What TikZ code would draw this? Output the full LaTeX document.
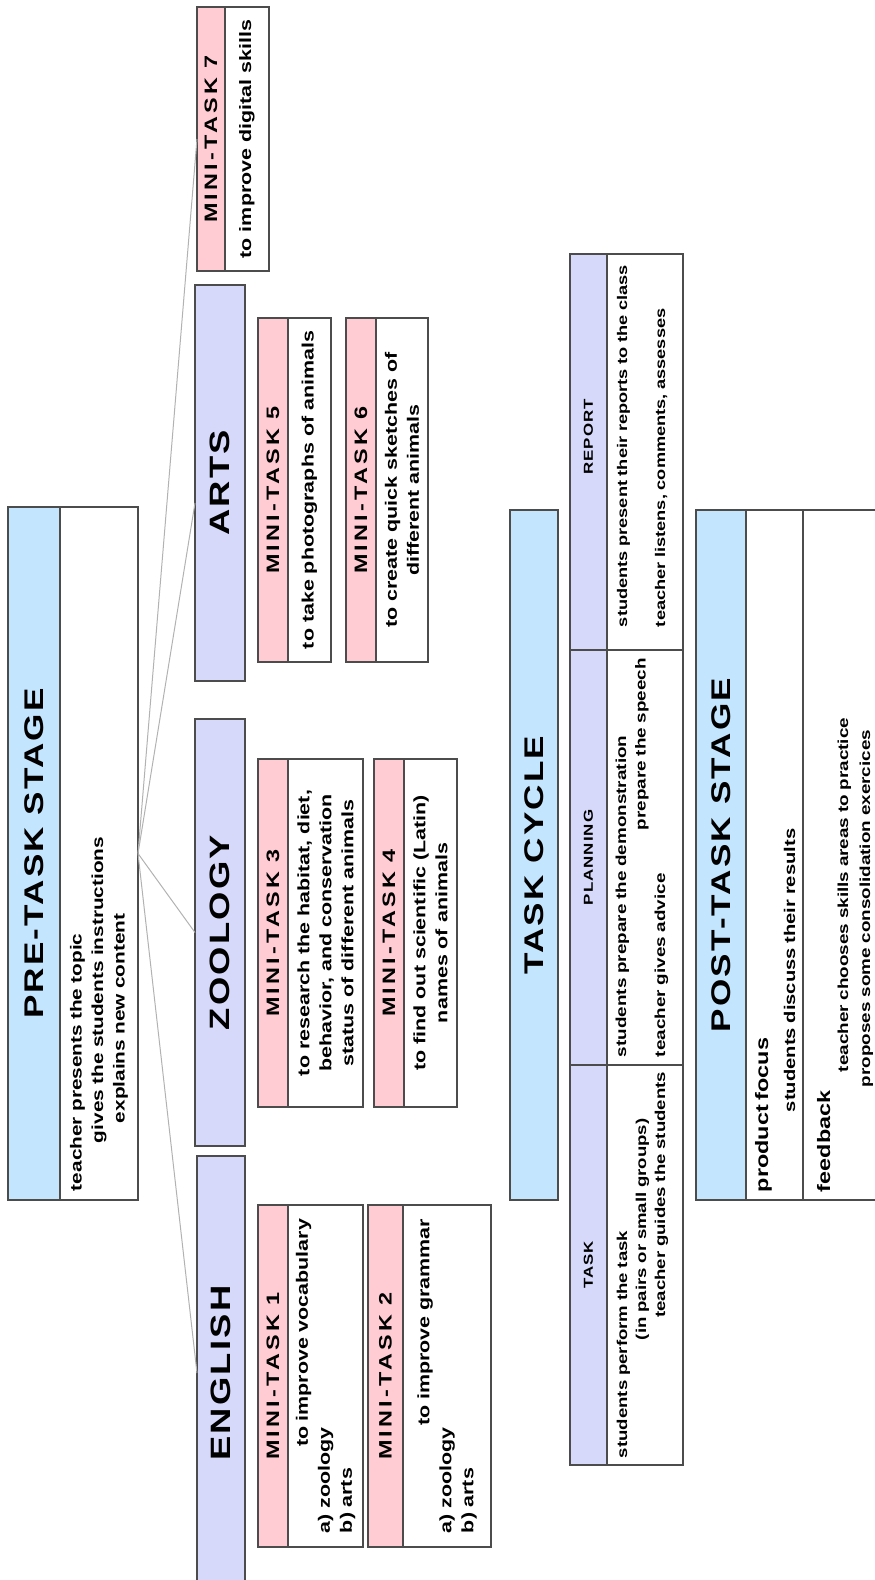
\documentclass[tikz,border=0pt]{standalone}
\usepackage{fontspec}
\setmainfont{Liberation Sans}[FakeStretch=1.3]
\newfontfamily\spacedfont{Liberation Sans}[FakeStretch=1.3,LetterSpace=8]
\newfontfamily\titlefont{Liberation Sans}[FakeStretch=1.3,LetterSpace=18]
\definecolor{stageblue}{HTML}{C4E5FE}
\definecolor{subjectblue}{HTML}{D7D9FB}
\definecolor{taskpink}{HTML}{FFCCD3}

\tikzset{
  panel/.style={draw=black!70, line width=1.2pt, rotate=90, inner sep=0pt, outer sep=0pt},
  dims/.style 2 args={minimum width=#1, minimum height=#2},
  stagetitle/.style={panel, fill=stageblue, font=\spacedfont\bfseries\fontsize{27}{30}\selectfont},
  stagetext/.style={panel, fill=white, align=left, font=\bfseries\fontsize{16}{21.5}\selectfont},
  subject/.style={panel, fill=subjectblue, font=\spacedfont\bfseries\fontsize{28}{30}\selectfont},
  minititle/.style={panel, fill=taskpink, font=\titlefont\bfseries\fontsize{18}{20}\selectfont},
  minitext/.style={panel, fill=white, align=center, font=\bfseries\fontsize{16.5}{22}\selectfont},
  phasetitle/.style={panel, fill=subjectblue, font=\spacedfont\bfseries\fontsize{13}{16}\selectfont},
  phasetext/.style={panel, fill=white, align=left},
  posttext/.style={panel, fill=white, align=left, font=\bfseries\fontsize{14.5}{17}\selectfont},
  link/.style={draw=black!30, line width=1pt},
}

\begin{document}
\begin{tikzpicture}[x=1pt, y=-1pt]
\useasboundingbox (0,0) rectangle (875,1580);

% pre-task stage
\node[stagetitle, dims={693pt}{52pt}] (pretitle) at (34,853.5) {PRE-TASK STAGE};
\node[stagetext, dims={693pt}{78pt}, text width=675pt] (pretext) at (99,853.5)
  {teacher presents the topic\\
   \hspace*{48pt}gives the students instructions\\
   \hspace*{68pt}explains new content};

% subjects
\node[subject, dims={434pt}{48pt}] (english) at (221,1373) {ENGLISH};
\node[subject, dims={427pt}{50pt}] (zoology) at (220,932.5) {ZOOLOGY};
\node[subject, dims={396pt}{50pt}] (arts) at (220,483) {ARTS};
\node[minititle, dims={264pt}{28pt}] (mt7) at (211,139) {MINI-TASK 7};
\node[minitext, dims={264pt}{44pt}] (mt7text) at (247,139) {to improve digital skills};

\draw[link] (pretext.south) -- (english.north);
\draw[link] (pretext.south) -- (zoology.north);
\draw[link] (pretext.south) -- ([yshift=-20pt]arts.north);
\draw[link] (pretext.south) -- (mt7.north);

% english
\node[minititle, dims={342pt}{30pt}] (mt1) at (273,1376) {MINI-TASK 1};
\node[minitext, dims={342pt}{75pt}, text width=314pt, align=left] (mt1text) at (325.5,1376)
  {\hspace*{\fill}to improve vocabulary\hspace*{\fill}\\ a) zoology\\ b) arts};
\node[minititle, dims={342pt}{35pt}] (mt2) at (385.5,1376) {MINI-TASK 2};
\node[minitext, dims={342pt}{88pt}, text width=314pt, align=left] (mt2text) at (447,1376)
  {\hspace*{\fill}to improve grammar\hspace*{\fill}\\ a) zoology\\ b) arts};

% zoology
\node[minititle, dims={348pt}{30pt}] (mt3) at (273,933) {MINI-TASK 3};
\node[minitext, dims={348pt}{75pt}] (mt3text) at (325.5,933)
  {to research the habitat, diet,\\ behavior, and conservation\\ status of different animals};
\node[minititle, dims={348pt}{30pt}] (mt4) at (389,933) {MINI-TASK 4};
\node[minitext, dims={348pt}{53pt}] (mt4text) at (430.5,933)
  {to find out scientific (Latin)\\ names of animals};

% arts
\node[minititle, dims={344pt}{30pt}] (mt5) at (273,490) {MINI-TASK 5};
\node[minitext, dims={344pt}{43pt}] (mt5text) at (309.5,490) {to take photographs of animals};
\node[minititle, dims={344pt}{30pt}] (mt6) at (361,490) {MINI-TASK 6};
\node[minitext, dims={344pt}{52pt}] (mt6text) at (402,490)
  {to create quick sketches of\\ different animals};

% task cycle
\node[stagetitle, dims={690pt}{48pt}] (cycle) at (534,855) {TASK CYCLE};
\node[phasetitle, dims={396pt}{37pt}] (report) at (588.5,452) {\hspace*{30pt}REPORT};
\node[phasetext, minimum width=396pt, text width=386pt, text height=20pt, text depth=56pt,
      font=\bfseries\fontsize{14}{17.5}\selectfont] (reporttext) at (645,452)
  {\hspace*{18pt}students present their reports to the class\\[20.5pt]
   \hspace*{18pt}teacher listens, comments, assesses};
\node[phasetitle, dims={415pt}{37pt}] (planning) at (588.5,857.5) {PLANNING};
\node[phasetext, minimum width=415pt, text width=399pt, text height=19pt, text depth=57pt,
      font=\bfseries\fontsize{14.5}{19.5}\selectfont] (planningtext) at (645,857.5)
  {students prepare the demonstration\\ \hspace*{\fill}prepare the speech\hspace*{\fill}\\ teacher gives advice};
\node[phasetitle, dims={400pt}{37pt}] (task) at (588.5,1265) {TASK};
\node[phasetext, minimum width=400pt, text width=386pt, text height=20pt, text depth=56pt,
      font=\bfseries\fontsize{14.3}{19}\selectfont] (tasktext) at (645,1265)
  {students perform the task\\ \hspace*{118pt}(in pairs or small groups)\\ \hspace*{\fill}teacher guides the students\hspace*{\fill}};

% post-task stage
\node[stagetitle, dims={690pt}{50pt}] (posttitle) at (721,855) {POST-TASK STAGE};
\node[posttext, minimum width=690pt, text width=674pt, text height=22pt, text depth=35pt] (focus) at (774.5,855)
  {{\fontsize{18}{17}\selectfont product focus}\\[10pt]
   \hspace*{80pt}{\fontsize{15.5}{17}\selectfont students discuss their results}};
\node[posttext, minimum width=690pt, text width=674pt, text height=27pt, text depth=60pt] (feedback) at (846.5,855)
  {{\fontsize{18}{17}\selectfont feedback}\\[1pt]
   \hspace*{120pt}teacher chooses skills areas to practice\\[5pt]
   \hspace*{105pt}proposes some consolidation exercices};
\end{tikzpicture}
\end{document}
